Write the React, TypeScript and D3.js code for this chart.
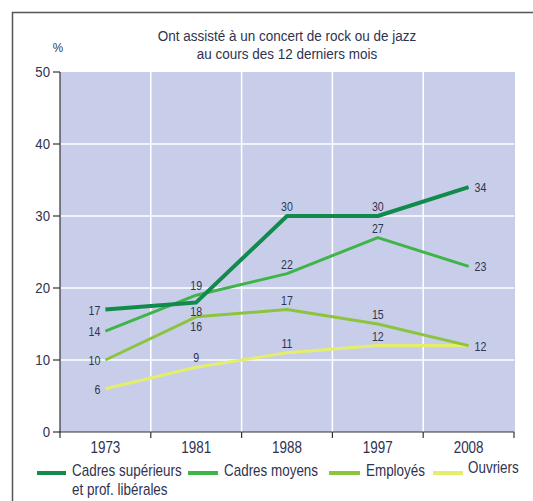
import React from 'react';
import * as d3 from 'd3';

const years = ['1973', '1981', '1988', '1997', '2008'];
const cadresSup = [17, 18, 30, 30, 34];
const cadresMoy = [14, 19, 22, 27, 23];
const employes = [10, 16, 17, 15, 12];
const ouvriers = [6, 9, 11, 12, 12];
const yTicks = [0, 10, 20, 30, 40, 50];

const seriesNames = ['Cadres supérieurs', 'Cadres moyens', 'Employés', 'Ouvriers'];
const seriesValues = [cadresSup, cadresMoy, employes, ouvriers];
const seriesColors = ['#128a4c', '#3fb449', '#8cc43e', '#e4ee6c'];
const seriesWidths = [4, 3, 3, 3];
const labelPos = [
  ['left', 'below', 'above', 'above', 'right'],
  ['left', 'above', 'above', 'above', 'right'],
  ['left', 'below', 'above', 'above', 'right'],
  ['left', 'above', 'above', 'above', 'none'],
];

const FONT = "'Liberation Sans', Arial, sans-serif";
const TXT = '#2f3350';

function T(props: { x: number; y: number; sx: number; size: number; anchor?: string; children: any }) {
  const { x, y, sx, size, anchor = 'start', children } = props;
  return (
    <text transform={`translate(${x},${y}) scale(${sx},1)`} textAnchor={anchor} fontSize={size} fill={TXT}>
      {children}
    </text>
  );
}

export default function App() {
  const left = 60, right = 514, top = 72, bottom = 432;
  const x = d3.scaleBand<string>().domain(years).range([left, right]);
  const y = d3.scaleLinear().domain([0, 50]).range([bottom, top]);
  const cx = (yr: string) => (x(yr) as number) + x.bandwidth() / 2;
  const line = d3.line<number>().x((_, i) => cx(years[i])).y((v) => y(v));

  const legend = [
    { x1: 37, x2: 66, ty: 473, tx: 72, lines: ['Cadres supérieurs', 'et prof. libérales'], tyText: 476 },
    { x1: 188, x2: 218, ty: 473, tx: 224, lines: ['Cadres moyens'], tyText: 476 },
    { x1: 329, x2: 360, ty: 473, tx: 366, lines: ['Employés'], tyText: 476 },
    { x1: 433, x2: 463, ty: 473, tx: 468, lines: ['Ouvriers'], tyText: 473 },
  ];

  return (
    <svg width={533} height={501} style={{ position: 'absolute', left: 0, top: 0, background: '#fff' }} fontFamily={FONT}>
      <rect x={12.5} y={12.5} width={540} height={520} fill="none" stroke="#555" strokeWidth={1.5} />
      <T x={287} y={41} sx={0.93} size={14.5} anchor="middle">Ont assisté à un concert de rock ou de jazz</T>
      <T x={287} y={59} sx={0.93} size={14.5} anchor="middle">au cours des 12 derniers mois</T>
      <T x={58} y={52} sx={0.9} size={13} anchor="middle">%</T>
      <rect x={left} y={top} width={right - left + 1} height={bottom - top} fill="#c8cee9" />
      {yTicks.filter((t) => t > 0 && t < 50).map((t) => (
        <line key={'g' + t} x1={left} x2={right} y1={y(t)} y2={y(t)} stroke="#fff" strokeWidth={1.5} />
      ))}
      {years.slice(1).map((yr) => (
        <line key={'v' + yr} x1={x(yr)} x2={x(yr)} y1={top} y2={bottom} stroke="#fff" strokeWidth={1.5} />
      ))}
      <line x1={left} x2={left} y1={y(50)} y2={bottom + 6} stroke="#333" strokeWidth={1.2} />
      <line x1={left - 1} x2={right} y1={bottom} y2={bottom} stroke="#333" strokeWidth={1.2} />
      {yTicks.map((t) => (
        <g key={'t' + t}>
          <line x1={left - 7} x2={left} y1={y(t)} y2={y(t)} stroke="#333" strokeWidth={1.2} />
          <T x={left - 10} y={y(t) + 5} sx={0.88} size={15} anchor="end">{t}</T>
        </g>
      ))}
      {years.map((yr) => (
        <g key={'x' + yr}>
          <line x1={(x(yr) as number) + x.bandwidth()} x2={(x(yr) as number) + x.bandwidth()} y1={bottom} y2={bottom + 6} stroke="#333" strokeWidth={1.2} />
          <T x={cx(yr)} y={453} sx={0.84} size={16} anchor="middle">{yr}</T>
        </g>
      ))}
      {seriesValues.slice().reverse().map((vals, ri) => {
        const si = seriesValues.length - 1 - ri;
        return (
          <path key={'s' + si} d={line(vals) as string} fill="none" stroke={seriesColors[si]} strokeWidth={seriesWidths[si]} strokeLinejoin="round" />
        );
      })}
      {seriesValues.map((vals, si) =>
        vals.map((v, i) => {
          const pos = labelPos[si][i];
          if (pos === 'none') return null;
          const px = cx(years[i]);
          const py = y(v);
          let tx = px, ty = py, anchor = 'middle';
          if (pos === 'left') { tx = px - 5; ty = py + 5; anchor = 'end'; }
          else if (pos === 'right') { tx = px + 6; ty = py + 5; anchor = 'start'; }
          else if (pos === 'above') { ty = py - 5; }
          else if (pos === 'below') { ty = py + 14; }
          return (
            <T key={'l' + si + '-' + i} x={tx} y={ty} sx={0.85} size={12.5} anchor={anchor}>{v}</T>
          );
        })
      )}
      {legend.map((l, i) => (
        <g key={'lg' + i}>
          <line x1={l.x1} x2={l.x2} y1={l.ty} y2={l.ty} stroke={seriesColors[i]} strokeWidth={4} />
          {l.lines.map((s, j) => (
            <T key={j} x={l.tx} y={l.tyText + j * 19} sx={0.84} size={16}>{s}</T>
          ))}
        </g>
      ))}
    </svg>
  );
}
